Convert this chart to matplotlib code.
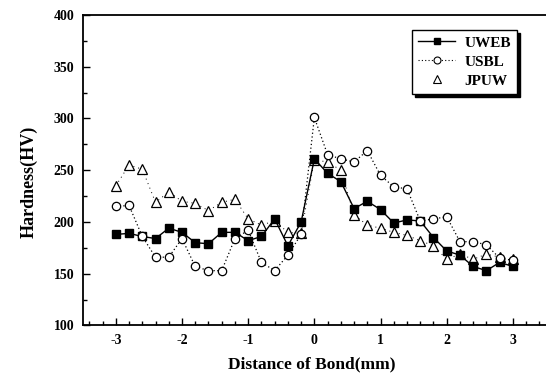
import numpy as np
import matplotlib
matplotlib.use("Agg")
import matplotlib.pyplot as plt
from matplotlib.lines import Line2D
from matplotlib.ticker import MultipleLocator

# distance from bond line (mm), one reading every 0.2 mm
distance = [-3.0, -2.8, -2.6, -2.4, -2.2, -2.0, -1.8, -1.6, -1.4, -1.2, -1.0,
            -0.8, -0.6, -0.4, -0.2, 0.0, 0.2, 0.4, 0.6, 0.8, 1.0,
            1.2, 1.4, 1.6, 1.8, 2.0, 2.2, 2.4, 2.6, 2.8, 3.0]

uweb = [188, 189, 186, 184, 194, 190, 180, 179, 190, 190, 182,
        186, 203, 177, 200, 261, 247, 239, 213, 220, 212,
        199, 202, 201, 185, 172, 168, 157, 153, 161, 157]

usbl = [215, 216, 186, 166, 166, 184, 157, 153, 153, 184, 192,
        161, 153, 168, 188, 301, 265, 261, 258, 269, 245,
        234, 232, 201, 203, 205, 181, 181, 178, 165, 163]

jpuw = [235, 255, 251, 219, 229, 220, 218, 211, 219, 222, 203,
        197, 201, 190, 189, 260, 258, 250, 207, 197, 194,
        190, 187, 182, 177, 164, 169, 164, 169, 166, 164]

plt.rcParams['font.family'] = ['Liberation Serif', 'DejaVu Serif']
plt.rcParams['font.weight'] = 'bold'
plt.rcParams['axes.unicode_minus'] = False

fig = plt.figure(figsize=(5.46, 3.74), dpi=100)
ax = fig.add_axes([0.1515, 0.1297, 0.8485, 0.8302])

ax.plot(distance, jpuw, linestyle=(0, (1, 4)), color='black', linewidth=0.7,
        marker='^', markersize=6.5, markerfacecolor='white',
        markeredgecolor='black', markeredgewidth=0.9, zorder=2)
ax.plot(distance, uweb, '-', color='black', linewidth=1.0,
        marker='s', markersize=5.2, markerfacecolor='black',
        markeredgecolor='black', zorder=3)
ax.plot(distance, usbl, linestyle=(0, (1, 2)), color='black', linewidth=0.9,
        marker='o', markersize=6, markerfacecolor='white',
        markeredgecolor='black', markeredgewidth=0.9, zorder=4)

ax.set_xlim(-3.5, 3.5)
ax.set_ylim(100, 400)
ax.xaxis.set_major_locator(MultipleLocator(1))
ax.xaxis.set_minor_locator(MultipleLocator(0.2))
ax.yaxis.set_major_locator(MultipleLocator(50))
ax.yaxis.set_minor_locator(MultipleLocator(25))
ax.tick_params(which='both', direction='in', top=False, right=False,
               labelsize=10, width=1.0)
ax.tick_params(which='major', length=5, pad=6)
ax.tick_params(which='minor', length=3)

for s in ['left', 'bottom', 'top']:
    ax.spines[s].set_linewidth(1.3)
ax.spines['right'].set_visible(False)

ax.set_xlabel('Distance of Bond(mm)', fontsize=12.5, fontweight='bold')
ax.set_ylabel('Hardness(HV)', fontsize=13, fontweight='bold')
ax.xaxis.set_label_coords(0.495, -0.1)
ax.yaxis.set_label_coords(-0.097, 0.462)

handles = [
    Line2D([], [], color='black', linewidth=1.0, marker='s', markersize=4.5,
           markerfacecolor='black'),
    Line2D([], [], color='black', linewidth=0.8, linestyle=(0, (1, 2)),
           marker='o', markersize=5, markerfacecolor='white', markeredgewidth=0.8),
    Line2D([], [], color='none', marker='^', markersize=5.5,
           markerfacecolor='white', markeredgecolor='black', markeredgewidth=0.8),
]
leg = ax.legend(handles, ['UWEB', 'USBL', 'JPUW'], loc='upper right',
                bbox_to_anchor=(0.937, 0.952), borderaxespad=0, fancybox=False,
                shadow={'facecolor': 'black', 'edgecolor': 'black', 'alpha': 1.0},
                edgecolor='black', framealpha=1, fontsize=11,
                handlelength=2.4, borderpad=0.4, labelspacing=0.35,
                handletextpad=0.6)
leg.get_frame().set_linewidth(1.0)

fig.savefig('out.png', dpi=100)
